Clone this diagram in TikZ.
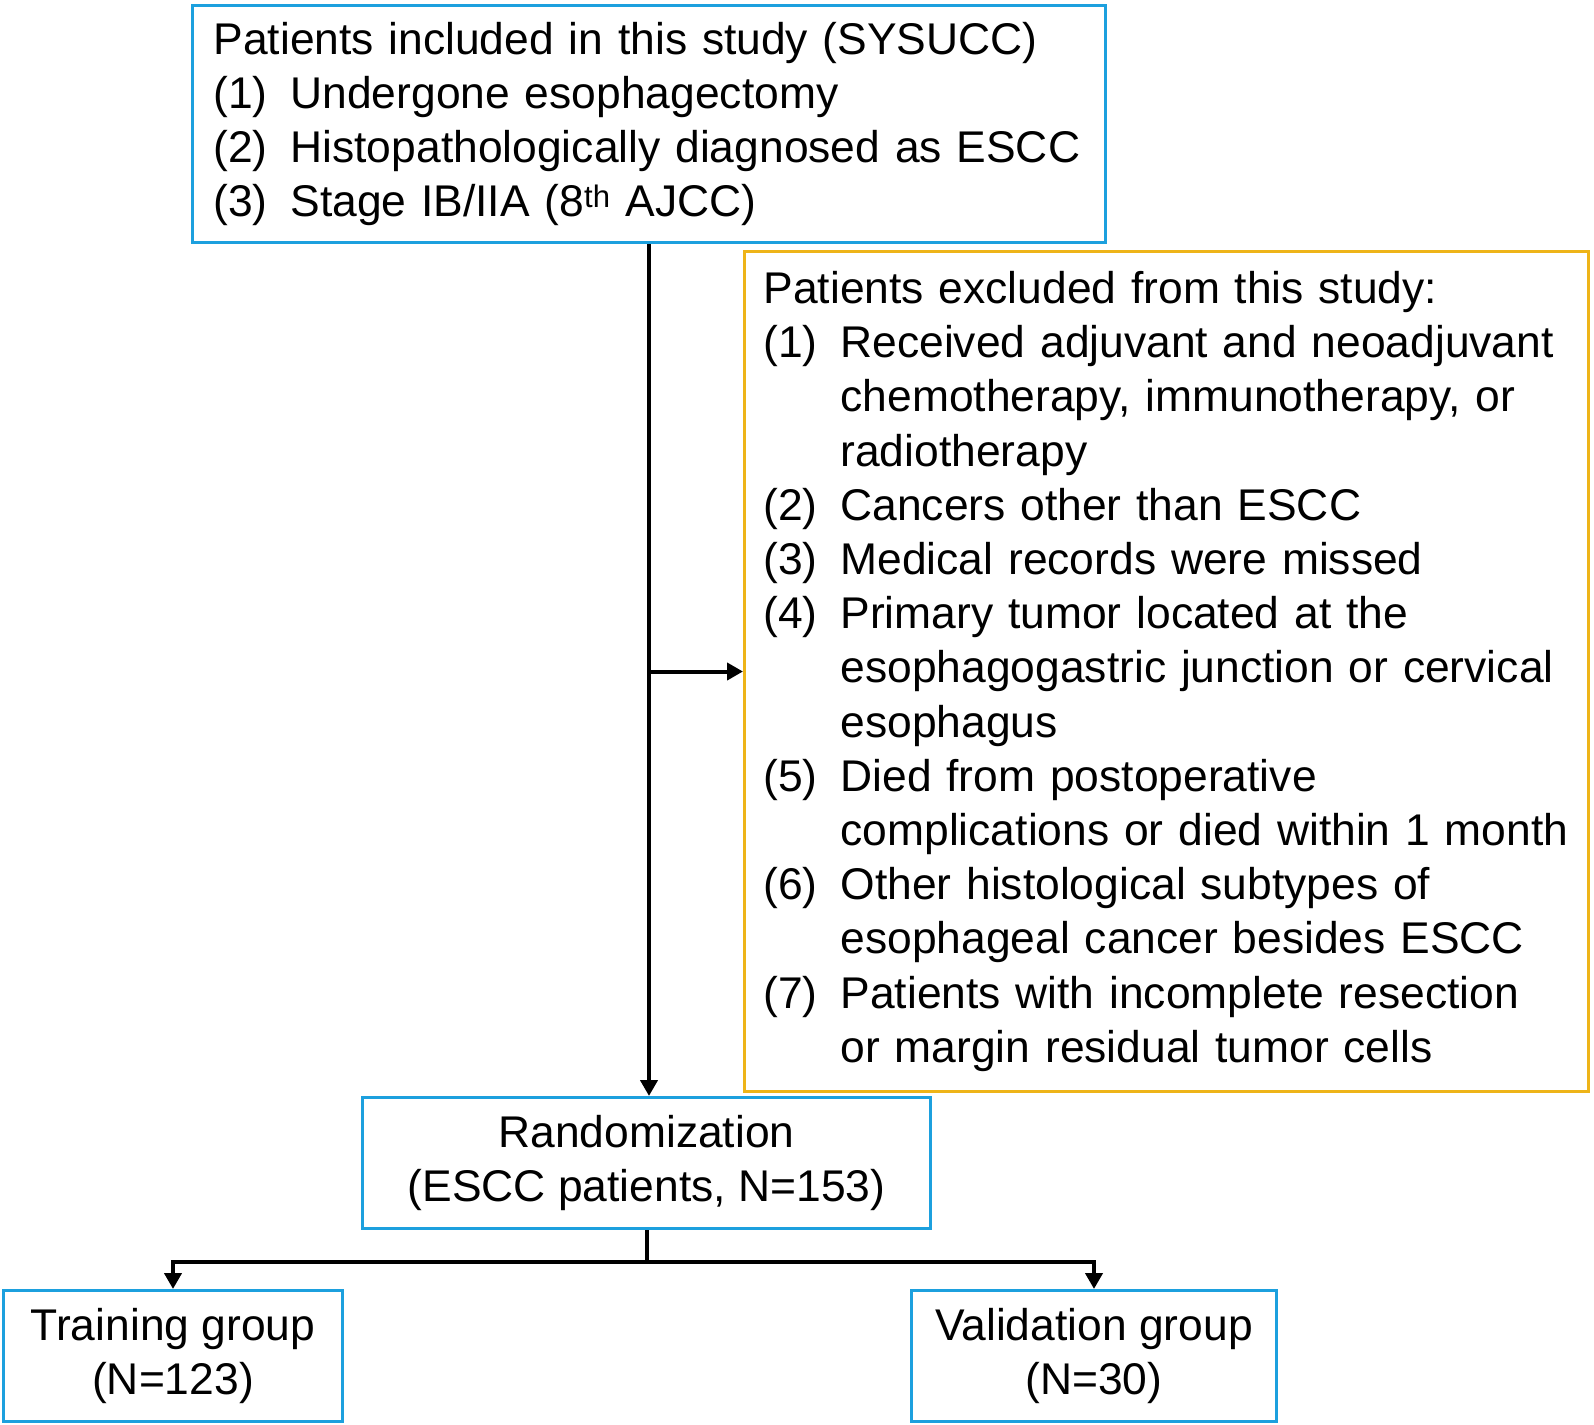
\documentclass[tikz,border=0pt]{standalone}
\usepackage{fontspec}
\setmainfont{Liberation Sans}
\usetikzlibrary{arrows.meta,positioning}
\definecolor{boxblue}{RGB}{28,160,222}
\definecolor{boxgold}{RGB}{238,180,24}
\tikzstyle{arrow} = [draw, line width=4pt, -{Triangle[length=16pt,width=17pt]}]
\tikzstyle{line} = [draw, line width=4pt]
\tikzstyle{bluebox} = [draw=boxblue, line width=3pt, inner ysep=0pt, anchor=north west]
\tikzstyle{goldbox} = [draw=boxgold, line width=3pt, inner ysep=0pt, anchor=north west]
\newcommand{\itm}[1]{\makebox[77pt][l]{(#1)}}
\newcommand{\cnt}{\hspace*{77pt}}

\begin{document}
\begin{tikzpicture}[x=1pt, y=-1pt, every node/.style={font=\fontsize{44.4pt}{54.2pt}\selectfont}]
      \useasboundingbox (0,0) rectangle (1594,1424);

      % inclusion and exclusion
      \node (incl) at (191,4) [bluebox, minimum width=913pt, minimum height=237pt,
        inner xsep=21pt, text width=871pt, align=left]
        {Patients included in this study (SYSUCC)\\
         \itm{1}Undergone esophagectomy\\
         \itm{2}Histopathologically diagnosed as ESCC\\
         \itm{3}Stage IB/IIA (8\textsuperscript{th} AJCC)};
      \node (excl) at (743,250) [goldbox, minimum width=844pt, minimum height=840pt,
        inner xsep=19pt, text width=806pt, align=left]
        {Patients excluded from this study:\\
         \itm{1}Received adjuvant and neoadjuvant\\
         \cnt chemotherapy, immunotherapy, or\\
         \cnt radiotherapy\\
         \itm{2}Cancers other than ESCC\\
         \itm{3}Medical records were missed\\
         \itm{4}Primary tumor located at the\\
         \cnt esophagogastric junction or cervical\\
         \cnt esophagus\\
         \itm{5}Died from postoperative\\
         \cnt \mbox{complications or died within 1 month}\\
         \itm{6}Other histological subtypes of\\
         \cnt esophageal cancer besides ESCC\\
         \itm{7}Patients with incomplete resection\\
         \cnt or margin residual tumor cells};

      % groups
      \node (rand) at (361,1096) [bluebox, minimum width=568pt, minimum height=131pt, align=center]
        {Randomization\\(ESCC patients, N=153)};
      \node (train) at (2,1289) [bluebox, minimum width=339pt, minimum height=131pt, align=center]
        {Training group\\(N=123)};
      \node (valid) at (910,1289) [bluebox, minimum width=365pt, minimum height=131pt, align=center]
        {Validation group\\(N=30)};

      \draw[arrow] (incl.south) -- (incl.south |- rand.north);
      \draw[arrow] (incl.south |- excl.west) -- (excl.west);
      \draw[line] (rand.south) -- ++(0,32) coordinate (split);
      \draw[arrow] (split) -| (train.north);
      \draw[arrow] (split) -| (valid.north);
    \end{tikzpicture}
\end{document}
